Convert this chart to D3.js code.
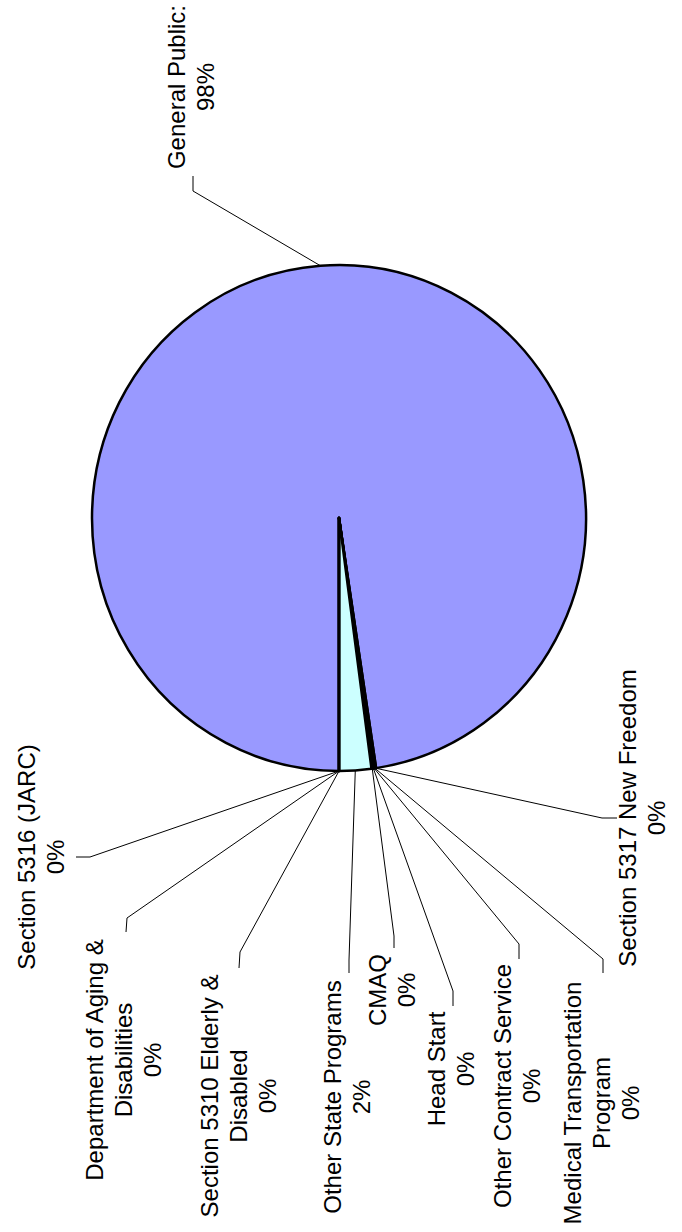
<!DOCTYPE html>
<html>
<head>
<meta charset="utf-8">
<script src="https://cdn.jsdelivr.net/npm/d3@7"></script>
<style>
  html, body { margin: 0; padding: 0; background: #ffffff; }
  svg { display: block; }
</style>
</head>
<body>
<svg id="chart" width="682" height="1232"></svg>
<script>
// ---- data ----
const categories = [
  "General Public",
  "Section 5317 New Freedom",
  "Medical Transportation Program",
  "Other Contract Service",
  "Head Start",
  "CMAQ",
  "Other State Programs",
  "Section 5310 Elderly & Disabled",
  "Department of Aging & Disabilities",
  "Section 5316 (JARC)"
];
const labelLines = [
  ["General Public:"],
  ["Section 5317 New Freedom"],
  ["Medical Transportation", "Program"],
  ["Other Contract Service"],
  ["Head Start"],
  ["CMAQ"],
  ["Other State Programs"],
  ["Section 5310 Elderly &", "Disabled"],
  ["Department of Aging &", "Disabilities"],
  ["Section 5316 (JARC)"]
];
const values = [97.6, 0.05, 0.05, 0.05, 0.05, 0.1, 2.1, 0, 0, 0];
const colors = ["#9999FF", "#993366", "#FFFFCC", "#660066", "#FF8080",
                "#0066CC", "#CCFFFF", "#CCCCFF", "#000080", "#FF00FF"];

// ---- layout (label placement: elbow x,y ; end x,y ; label centre x,y) ----
const labelLayout = [
  [193, 191, 193, 176, 191, 87],
  [602, 818, 617, 818, 642, 818],
  [603, 959, 603, 973, 601, 1103],
  [519, 944, 519, 959, 517, 1086],
  [453, 991, 453, 1006, 450.5, 1069],
  [394, 936, 394, 948, 391.5, 990],
  [349, 960, 349, 973, 347, 1097],
  [240, 952, 239, 968, 238, 1096],
  [127, 918, 126, 932, 123, 1060],
  [90, 857, 76, 857, 40.5, 857]
];

const cx = 339, cy = 518, rx = 247, ry = 253;
const fontSize = 24, lineH = 29;

const svg = d3.select("#chart");
svg.append("rect").attr("width", 682).attr("height", 1232).attr("fill", "#fff");

const total = d3.sum(values);
const pie = d3.pie().sort(null).value(d => d)
  .startAngle(Math.PI).endAngle(3 * Math.PI);
const arcs = pie(values);
const arc = d3.arc().innerRadius(0).outerRadius(rx);

const g = svg.append("g")
  .attr("transform", `translate(${cx},${cy}) scale(1,${ry / rx})`);

g.selectAll("path.slice").data(arcs).enter().append("path")
  .attr("class", "slice")
  .attr("d", arc)
  .attr("fill", (d, i) => colors[i])
  .attr("stroke", "#000")
  .attr("stroke-width", 2.5)
  .attr("stroke-linejoin", "round")
  .attr("vector-effect", "non-scaling-stroke");

// leader lines
const edgePoint = d => {
  const m = (d.startAngle + d.endAngle) / 2;
  return [cx + rx * Math.sin(m), cy - ry * Math.cos(m)];
};
svg.selectAll("path.leader").data(arcs).enter().append("path")
  .attr("class", "leader")
  .attr("d", (d, i) => {
    const p = edgePoint(d), L = labelLayout[i];
    return d3.line()([p, [L[0], L[1]], [L[2], L[3]]]);
  })
  .attr("fill", "none")
  .attr("stroke", "#000")
  .attr("stroke-width", 1);

// labels (rotated -90)
const labels = svg.selectAll("text.lbl").data(arcs).enter().append("text")
  .attr("class", "lbl")
  .attr("transform", (d, i) => `translate(${labelLayout[i][4]},${labelLayout[i][5]}) rotate(-90)`)
  .attr("text-anchor", "middle")
  .attr("font-family", "'Liberation Sans', Arial, sans-serif")
  .attr("font-size", fontSize)
  .attr("fill", "#000");

labels.each(function(d, i) {
  const lines = labelLines[i].concat([Math.round(d.data / total * 100) + "%"]);
  const n = lines.length;
  d3.select(this).selectAll("tspan").data(lines).enter().append("tspan")
    .attr("x", 0)
    .attr("y", (t, j) => (j - (n - 1) / 2) * lineH + 8.6)
    .text(t => t);
});
</script>
</body>
</html>
